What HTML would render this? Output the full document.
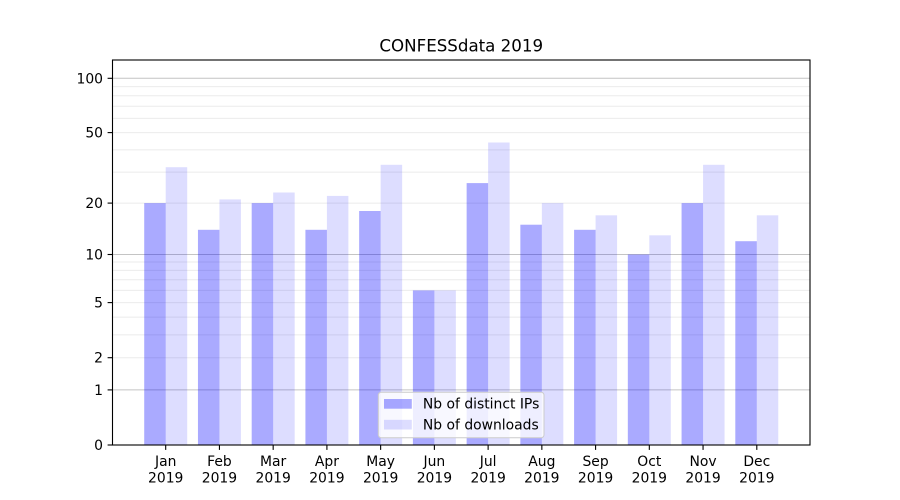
<!DOCTYPE html>
<html>
<head>
<meta charset="utf-8">
<style>
html,body{margin:0;padding:0;background:#fff;}
svg{display:block;}
text{font-family:"DejaVu Sans","Liberation Sans",sans-serif;fill:#000;}
</style>
</head>
<body>
<svg width="900" height="500" viewBox="0 0 900 500" xmlns="http://www.w3.org/2000/svg">
<rect x="0" y="0" width="900" height="500" fill="#fff"/>
<!-- minor gridlines -->
<g stroke="#ebebeb" stroke-width="1">
<line x1="112.5" x2="810" y1="357.7" y2="357.7"/>
<line x1="112.5" x2="810" y1="334.9" y2="334.9"/>
<line x1="112.5" x2="810" y1="317.1" y2="317.1"/>
<line x1="112.5" x2="810" y1="302.6" y2="302.6"/>
<line x1="112.5" x2="810" y1="290.4" y2="290.4"/>
<line x1="112.5" x2="810" y1="279.8" y2="279.8"/>
<line x1="112.5" x2="810" y1="270.4" y2="270.4"/>
<line x1="112.5" x2="810" y1="262.0" y2="262.0"/>
<line x1="112.5" x2="810" y1="203.1" y2="203.1"/>
<line x1="112.5" x2="810" y1="172.1" y2="172.1"/>
<line x1="112.5" x2="810" y1="149.9" y2="149.9"/>
<line x1="112.5" x2="810" y1="132.6" y2="132.6"/>
<line x1="112.5" x2="810" y1="118.4" y2="118.4"/>
<line x1="112.5" x2="810" y1="106.3" y2="106.3"/>
<line x1="112.5" x2="810" y1="95.8" y2="95.8"/>
<line x1="112.5" x2="810" y1="86.6" y2="86.6"/>
</g>
<!-- major gridlines -->
<g stroke="#c4c4c4" stroke-width="1">
<line x1="112.5" x2="810" y1="389.9" y2="389.9"/>
<line x1="112.5" x2="810" y1="254.5" y2="254.5"/>
<line x1="112.5" x2="810" y1="78.3" y2="78.3"/>
</g>
<!-- IP bars -->
<g fill="#0000ff" fill-opacity="0.333">
<rect x="144.21" y="203.1" width="21.49" height="241.9"/>
<rect x="197.95" y="229.8" width="21.49" height="215.2"/>
<rect x="251.68" y="203.1" width="21.49" height="241.9"/>
<rect x="305.42" y="229.8" width="21.49" height="215.2"/>
<rect x="359.15" y="211.0" width="21.49" height="234.0"/>
<rect x="412.89" y="290.4" width="21.49" height="154.6"/>
<rect x="466.63" y="183.1" width="21.49" height="261.9"/>
<rect x="520.36" y="224.7" width="21.49" height="220.3"/>
<rect x="574.10" y="229.8" width="21.49" height="215.2"/>
<rect x="627.83" y="254.5" width="21.49" height="190.5"/>
<rect x="681.57" y="203.1" width="21.49" height="241.9"/>
<rect x="735.31" y="241.2" width="21.49" height="203.8"/>
</g>
<!-- download bars -->
<g fill="#0000ff" fill-opacity="0.133">
<rect x="165.70" y="167.2" width="21.49" height="277.8"/>
<rect x="219.44" y="199.4" width="21.49" height="245.6"/>
<rect x="273.17" y="192.5" width="21.49" height="252.5"/>
<rect x="326.91" y="195.9" width="21.49" height="249.1"/>
<rect x="380.64" y="164.8" width="21.49" height="280.2"/>
<rect x="434.38" y="290.4" width="21.49" height="154.6"/>
<rect x="488.12" y="142.5" width="21.49" height="302.5"/>
<rect x="541.85" y="203.1" width="21.49" height="241.9"/>
<rect x="595.59" y="215.3" width="21.49" height="229.7"/>
<rect x="649.32" y="235.3" width="21.49" height="209.7"/>
<rect x="703.06" y="164.8" width="21.49" height="280.2"/>
<rect x="756.80" y="215.3" width="21.49" height="229.7"/>
</g>
<!-- axes frame -->
<rect x="112.5" y="60" width="697.5" height="385" fill="none" stroke="#000" stroke-width="1.1"/>
<!-- y ticks -->
<g stroke="#000" stroke-width="1.1">
<line x1="107.6" x2="112.5" y1="445" y2="445"/>
<line x1="107.6" x2="112.5" y1="389.9" y2="389.9"/>
<line x1="107.6" x2="112.5" y1="357.7" y2="357.7"/>
<line x1="107.6" x2="112.5" y1="302.6" y2="302.6"/>
<line x1="107.6" x2="112.5" y1="254.5" y2="254.5"/>
<line x1="107.6" x2="112.5" y1="203.1" y2="203.1"/>
<line x1="107.6" x2="112.5" y1="132.6" y2="132.6"/>
<line x1="107.6" x2="112.5" y1="78.3" y2="78.3"/>
</g>
<g font-size="13.9" text-anchor="end">
<text x="103" y="450">0</text>
<text x="103" y="394.9">1</text>
<text x="103" y="362.7">2</text>
<text x="103" y="307.6">5</text>
<text x="103" y="259.5">10</text>
<text x="103" y="208.1">20</text>
<text x="103" y="137.6">50</text>
<text x="103" y="83.3">100</text>
</g>
<!-- x ticks -->
<g stroke="#000" stroke-width="1.1">
<line x1="165.7" x2="165.7" y1="445" y2="449.9"/>
<line x1="219.44" x2="219.44" y1="445" y2="449.9"/>
<line x1="273.17" x2="273.17" y1="445" y2="449.9"/>
<line x1="326.91" x2="326.91" y1="445" y2="449.9"/>
<line x1="380.64" x2="380.64" y1="445" y2="449.9"/>
<line x1="434.38" x2="434.38" y1="445" y2="449.9"/>
<line x1="488.12" x2="488.12" y1="445" y2="449.9"/>
<line x1="541.85" x2="541.85" y1="445" y2="449.9"/>
<line x1="595.59" x2="595.59" y1="445" y2="449.9"/>
<line x1="649.32" x2="649.32" y1="445" y2="449.9"/>
<line x1="703.06" x2="703.06" y1="445" y2="449.9"/>
<line x1="756.8" x2="756.8" y1="445" y2="449.9"/>
</g>
<g font-size="13.9" text-anchor="middle">
<text x="165.7" y="466">Jan</text><text x="165.7" y="482.7">2019</text>
<text x="219.44" y="466">Feb</text><text x="219.44" y="482.7">2019</text>
<text x="273.17" y="466">Mar</text><text x="273.17" y="482.7">2019</text>
<text x="326.91" y="466">Apr</text><text x="326.91" y="482.7">2019</text>
<text x="380.64" y="466">May</text><text x="380.64" y="482.7">2019</text>
<text x="434.38" y="466">Jun</text><text x="434.38" y="482.7">2019</text>
<text x="488.12" y="466">Jul</text><text x="488.12" y="482.7">2019</text>
<text x="541.85" y="466">Aug</text><text x="541.85" y="482.7">2019</text>
<text x="595.59" y="466">Sep</text><text x="595.59" y="482.7">2019</text>
<text x="649.32" y="466">Oct</text><text x="649.32" y="482.7">2019</text>
<text x="703.06" y="466">Nov</text><text x="703.06" y="482.7">2019</text>
<text x="756.8" y="466">Dec</text><text x="756.8" y="482.7">2019</text>
</g>
<!-- title -->
<text x="461.25" y="51.7" font-size="16.67" text-anchor="middle">CONFESSdata 2019</text>
<!-- legend -->
<rect x="378.3" y="392.3" width="165.7" height="45.4" rx="2.8" ry="2.8" fill="#fff" fill-opacity="0.8" stroke="#cccccc" stroke-width="1"/>
<rect x="384" y="399" width="27.8" height="9.7" fill="#0000ff" fill-opacity="0.333"/>
<rect x="384" y="419.8" width="27.8" height="9.7" fill="#0000ff" fill-opacity="0.133"/>
<g font-size="13.9">
<text x="422.9" y="408.5">Nb of distinct IPs</text>
<text x="422.9" y="429.3">Nb of downloads</text>
</g>
</svg>
</body>
</html>
